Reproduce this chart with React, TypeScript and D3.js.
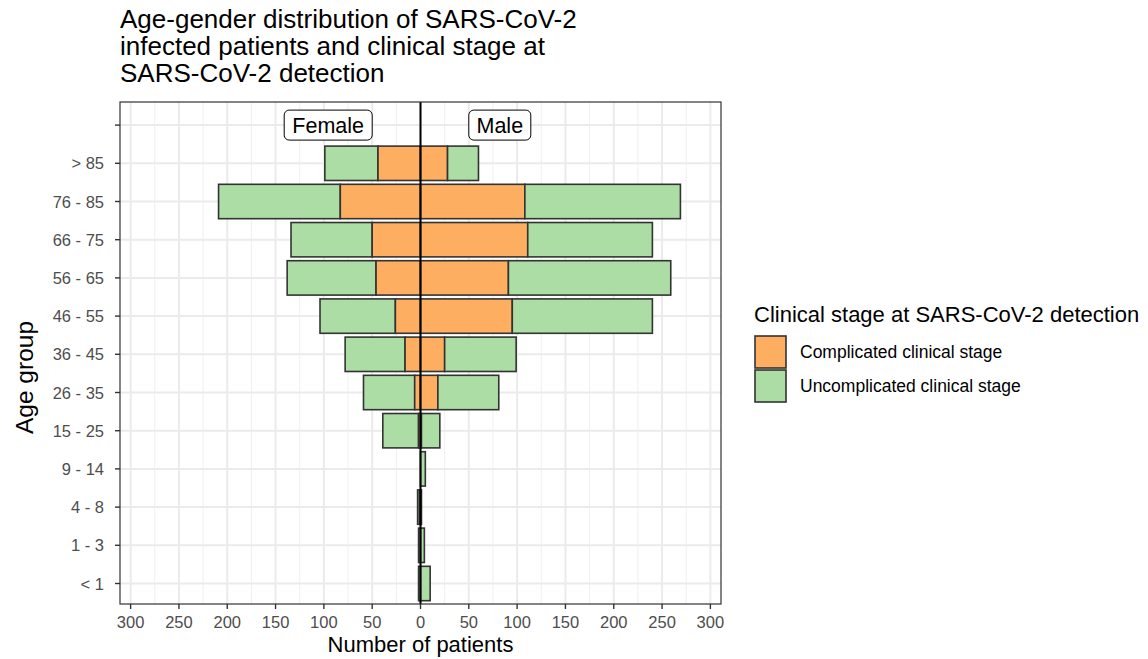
import * as d3 from "d3";
import React from "react";

const ageGroups = ["< 1", "1 - 3", "4 - 8", "9 - 14", "15 - 25", "26 - 35", "36 - 45", "46 - 55", "56 - 65", "66 - 75", "76 - 85", "> 85"];
const femaleComplicated = [0, 0, 1, 0, 2, 6, 16, 26, 46, 50, 83, 44];
const femaleUncomplicated = [2, 2, 2, 0, 37, 53, 62, 78, 92, 84, 126, 55];
const maleComplicated = [0, 0, 0, 0, 1, 18, 25, 95, 91, 111, 108, 28];
const maleUncomplicated = [10, 4, 1, 5, 19, 63, 74, 145, 168, 129, 161, 32];
const xTicks = [-300, -250, -200, -150, -100, -50, 0, 50, 100, 150, 200, 250, 300];
const xMinor = d3.range(-275, 300, 50);
const stageLabels = ["Complicated clinical stage", "Uncomplicated clinical stage"];
const stageColors = ["#fdae61", "#abdda4"];

const W = 1148;
const H = 659;
const panel = { left: 120, right: 721, top: 102, bottom: 604 };
const font = "Arial, 'Liberation Sans', sans-serif";

export default function App() {
  const x = d3.scaleLinear().domain([-311, 311]).range([panel.left, panel.right]);
  // one empty level on top holds the Female / Male labels
  const levels = [...ageGroups, ""];
  const y = d3.scalePoint<string>().domain([...levels].reverse()).range([125.1, 583.5]);
  const step = y.step();
  const bh = step * 0.9;
  const cy = (g: string) => y(g) as number;

  const bars: { x0: number; x1: number; g: string; fill: string }[] = [];
  ageGroups.forEach((g, i) => {
    const fc = femaleComplicated[i];
    const fu = femaleUncomplicated[i];
    const mc = maleComplicated[i];
    const mu = maleUncomplicated[i];
    if (fc + fu > 0) bars.push({ x0: -(fc + fu), x1: -fc, g, fill: stageColors[1] });
    if (fc > 0) bars.push({ x0: -fc, x1: 0, g, fill: stageColors[0] });
    if (mc > 0) bars.push({ x0: 0, x1: mc, g, fill: stageColors[0] });
    if (mu > 0) bars.push({ x0: mc, x1: mc + mu, g, fill: stageColors[1] });
  });

  const labelY = cy("");

  return (
    <svg width={W} height={H} style={{ position: "absolute", left: 0, top: 0, background: "#fff" }} fontFamily={font}>
      <rect width={W} height={H} fill="#fff" />
      {/* title */}
      <g fontSize={26} fill="#000">
        <text x={120} y={28}>Age-gender distribution of SARS-CoV-2</text>
        <text x={120} y={55}>infected patients and clinical stage at</text>
        <text x={120} y={82}>SARS-CoV-2 detection</text>
      </g>

      {/* grid */}
      {xMinor.map((v) => (
        <line key={"mn" + v} x1={x(v)} x2={x(v)} y1={panel.top} y2={panel.bottom} stroke="#f0f0f0" strokeWidth={1} />
      ))}
      {xTicks.map((v) => (
        <line key={"mj" + v} x1={x(v)} x2={x(v)} y1={panel.top} y2={panel.bottom} stroke="#ebebeb" strokeWidth={2} />
      ))}
      {levels.map((g) => (
        <line key={"hg" + g} x1={panel.left} x2={panel.right} y1={cy(g)} y2={cy(g)} stroke="#ebebeb" strokeWidth={2} />
      ))}

      {/* bars */}
      {bars.map((b, i) => (
        <rect
          key={i}
          x={x(b.x0)}
          y={cy(b.g) - bh / 2}
          width={x(b.x1) - x(b.x0)}
          height={bh}
          fill={b.fill}
          stroke="#333333"
          strokeWidth={1.6}
        />
      ))}

      <line x1={x(0)} x2={x(0)} y1={panel.top} y2={panel.bottom} stroke="#000" strokeWidth={2} />

      {/* gender labels */}
      <g fontSize={21.5}>
        <rect x={x(-50) - 88} y={labelY - 15} width={88} height={30} rx={5} fill="#fff" stroke="#000" strokeWidth={1} />
        <text x={x(-50) - 44} y={labelY + 8} textAnchor="middle">Female</text>
        <rect x={x(50)} y={labelY - 15} width={62} height={30} rx={5} fill="#fff" stroke="#000" strokeWidth={1} />
        <text x={x(50) + 31} y={labelY + 8} textAnchor="middle">Male</text>
      </g>

      {/* panel border */}
      <rect x={panel.left} y={panel.top} width={panel.right - panel.left} height={panel.bottom - panel.top} fill="none" stroke="#333" strokeWidth={1.2} />

      {/* y axis */}
      {levels.map((g) => (
        <g key={"yt" + g}>
          <line x1={panel.left - 5} x2={panel.left} y1={cy(g)} y2={cy(g)} stroke="#333" strokeWidth={1.4} />
          <text x={panel.left - 16} y={cy(g) + 6} textAnchor="end" fontSize={16.5} fill="#4d4d4d">{g}</text>
        </g>
      ))}
      <text transform={`translate(33,377.5) rotate(-90)`} textAnchor="middle" fontSize={24.5} fill="#000">Age group</text>

      {/* x axis */}
      {xTicks.map((v) => (
        <g key={"xt" + v}>
          <line x1={x(v)} x2={x(v)} y1={panel.bottom} y2={panel.bottom + 5} stroke="#333" strokeWidth={1.4} />
          <text x={x(v)} y={panel.bottom + 24} textAnchor="middle" fontSize={16.5} fill="#4d4d4d">{Math.abs(v)}</text>
        </g>
      ))}
      <text x={x(0)} y={652} textAnchor="middle" fontSize={22} fill="#000">Number of patients</text>

      {/* legend */}
      <text x={754} y={322} fontSize={22} fill="#000">Clinical stage at SARS-CoV-2 detection</text>
      {stageLabels.map((s, i) => (
        <g key={s}>
          <rect x={755} y={336 + i * 34} width={31} height={32} fill={stageColors[i]} stroke="#333" strokeWidth={1.6} />
          <text x={800} y={358 + i * 34} fontSize={17.5} fill="#000">{s}</text>
        </g>
      ))}
    </svg>
  );
}
